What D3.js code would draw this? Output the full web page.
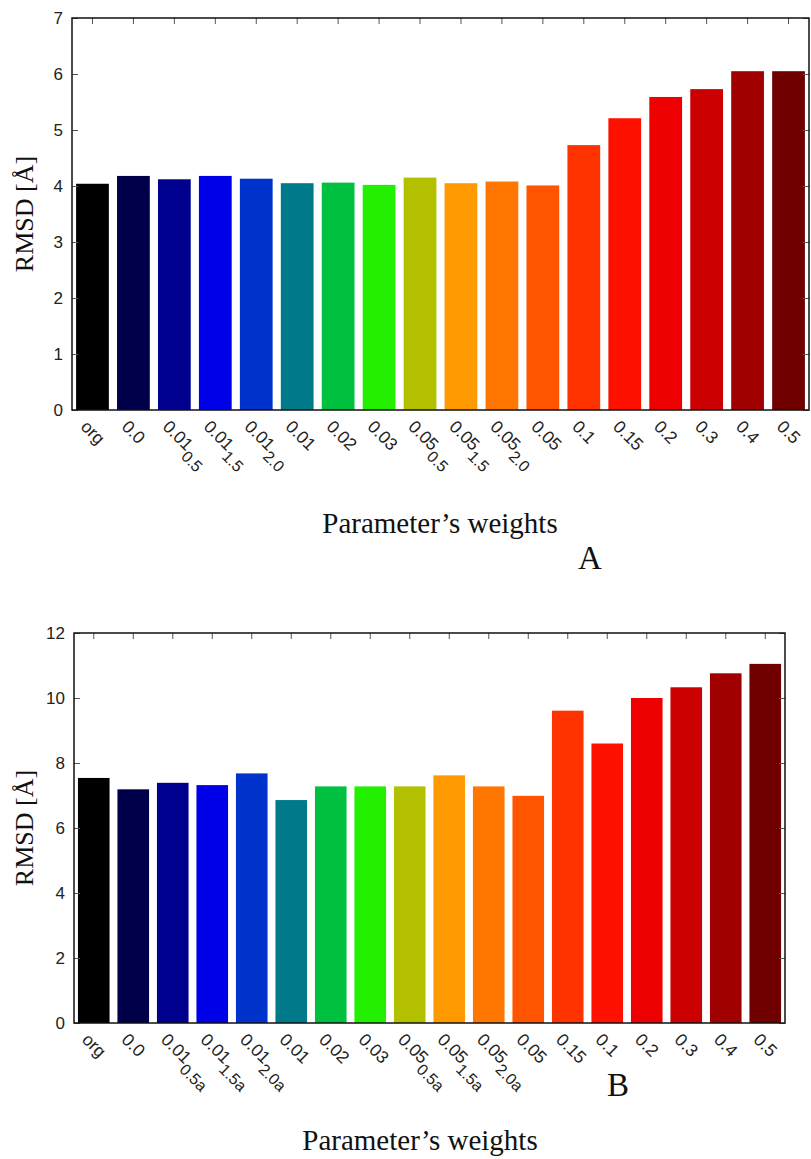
<!DOCTYPE html>
<html><head><meta charset="utf-8">
<script src="https://cdn.jsdelivr.net/npm/d3@7"></script>
<style>body{margin:0;background:#fff}svg{display:block}</style>
</head><body>
<svg id="c" width="811" height="1159"></svg>
<script>
const categoriesA = ["org","0.0","0.01_0.5","0.01_1.5","0.01_2.0","0.01","0.02","0.03","0.05_0.5","0.05_1.5","0.05_2.0","0.05","0.1","0.15","0.2","0.3","0.4","0.5"];
const valuesA = [4.04,4.18,4.12,4.18,4.13,4.05,4.06,4.02,4.15,4.05,4.08,4.01,4.73,5.21,5.59,5.73,6.05,6.05];
const ticksA = [0,1,2,3,4,5,6,7];

const categoriesB = ["org","0.0","0.01_0.5a","0.01_1.5a","0.01_2.0a","0.01","0.02","0.03","0.05_0.5a","0.05_1.5a","0.05_2.0a","0.05","0.15","0.1","0.2","0.3","0.4","0.5"];
const valuesB = [7.54,7.19,7.39,7.32,7.68,6.86,7.28,7.28,7.28,7.62,7.28,6.99,9.61,8.6,10.0,10.33,10.76,11.05];
const ticksB = [0,2,4,6,8,10,12];

const barColors = ["#000000","#00004a","#00008f","#0000e8","#0033cc","#007a8a","#00c040","#22f000","#b3c000","#ff9900","#ff7700","#ff5500","#ff3300","#ff1100","#ee0000","#cc0000","#a00000","#700000"];

const svg = d3.select("#c");

function panel(cfg){
  const {cats, vals, ticks, ymax, left, right, top, bottom, letter, letterX, letterY, titleX, titleY, ylabX} = cfg;
  const g = svg.append("g");
  const x = d3.scaleBand().domain(cats.map((c,i)=>i)).range([left,right]).paddingInner(0.2).paddingOuter(0.1);
  const y = d3.scaleLinear().domain([0,ymax]).range([bottom,top]);
  const xc = i => x(i) + x.bandwidth()/2;
  const tickLen = 6;
  g.selectAll("rect.bar").data(vals).join("rect").attr("class","bar")
    .attr("x",(d,i)=>x(i)).attr("width",x.bandwidth())
    .attr("y",d=>y(d)).attr("height",d=>y(0)-y(d))
    .attr("fill",(d,i)=>barColors[i]);
  const yl = g.append("g").attr("transform",`translate(${left},0)`)
    .call(d3.axisRight(y).tickValues(ticks).tickSize(tickLen).tickFormat(""));
  yl.select(".domain").remove();
  yl.selectAll("line").attr("stroke","#555");
  const yr = g.append("g").attr("transform",`translate(${right},0)`)
    .call(d3.axisLeft(y).tickValues(ticks).tickSize(tickLen).tickFormat(""));
  yr.select(".domain").remove();
  yr.selectAll("line").attr("stroke","#555");
  g.selectAll("text.yt").data(ticks).join("text").attr("class","yt")
    .attr("x",left-9).attr("y",d=>y(d)).attr("dy","0.35em")
    .attr("text-anchor","end").attr("font-family","Liberation Sans, Arial, sans-serif")
    .attr("font-size",17).attr("fill","#222").text(d=>d);
  const xt = g.append("g").attr("transform",`translate(0,${top})`)
    .call(d3.axisBottom(x).tickSize(tickLen).tickFormat(""));
  xt.select(".domain").remove();
  xt.selectAll("line").attr("stroke","#555");
  g.append("rect").attr("x",left).attr("y",top).attr("width",right-left).attr("height",bottom-top)
    .attr("fill","none").attr("stroke","#111").attr("stroke-width",1.5);
  const lab = g.selectAll("text.xl").data(cats).join("text").attr("class","xl")
    .attr("transform",(d,i)=>`translate(${xc(i)-4},${bottom+9}) rotate(45)`)
    .attr("dy","0.7em")
    .attr("font-family","Liberation Sans, Arial, sans-serif").attr("font-size",17.5).attr("fill","#222");
  lab.each(function(d){
    const t = d3.select(this);
    const parts = d.split("_");
    t.append("tspan").text(parts[0]);
    if(parts.length>1){
      t.append("tspan").attr("dy","0.5em").attr("font-size",16).text(parts[1]);
    }
  });
  g.append("text").attr("transform",`translate(${ylabX},${(top+bottom)/2}) rotate(-90)`)
    .attr("text-anchor","middle").attr("font-family","Liberation Serif, Times New Roman, serif")
    .attr("font-size",26).attr("fill","#111").text("RMSD [Å]");
  g.append("text").attr("x",titleX).attr("y",titleY).attr("text-anchor","middle")
    .attr("font-family","Liberation Serif, Times New Roman, serif").attr("font-size",29).attr("fill","#111")
    .text("Parameter’s weights");
  g.append("text").attr("x",letterX).attr("y",letterY).attr("text-anchor","middle")
    .attr("font-family","Liberation Serif, Times New Roman, serif").attr("font-size",33).attr("fill","#111")
    .text(letter);
}

panel({cats:categoriesA, vals:valuesA, ticks:ticksA, ymax:7, left:72, right:809, top:18, bottom:410,
  letter:"A", letterX:590, letterY:569, titleX:440, titleY:533, ylabX:33});
panel({cats:categoriesB, vals:valuesB, ticks:ticksB, ymax:12, left:74, right:785, top:633, bottom:1023,
  letter:"B", letterX:618, letterY:1096, titleX:420, titleY:1150, ylabX:33});
</script>
</body></html>
